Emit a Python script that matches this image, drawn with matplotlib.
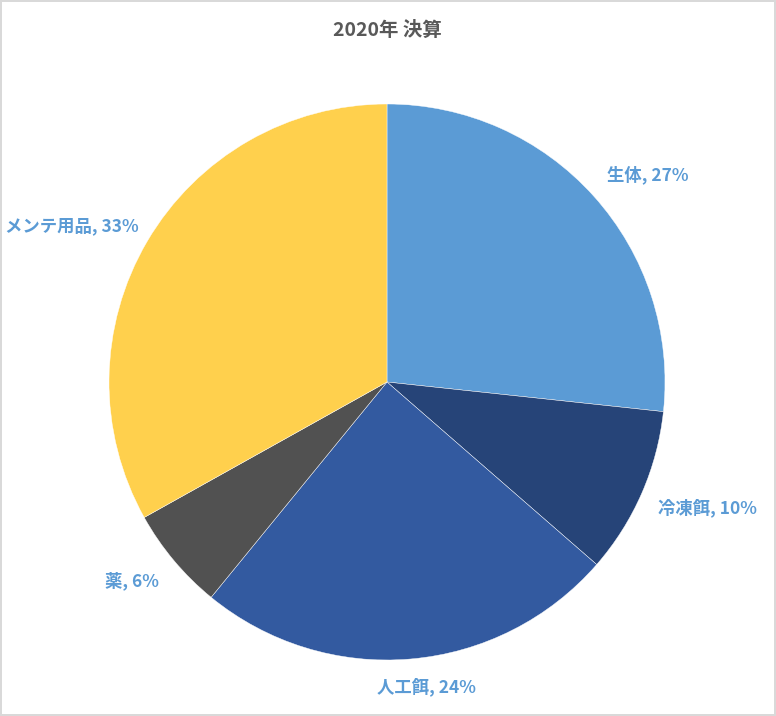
import matplotlib
matplotlib.use("Agg")
import matplotlib.pyplot as plt

plt.rcParams['font.family'] = ['Noto Sans CJK JP', 'DejaVu Sans']

categories = ["生体", "冷凍餌", "人工餌", "薬", "メンテ用品"]
values = [26.7, 9.7, 24.5, 6.0, 33.1]
colors = ["#5B9BD5", "#264478", "#335AA0", "#515151", "#FFD04D"]
# label centres in pixels of the 776x716 image
label_px = [(648, 175), (707, 508), (426, 687), (132, 581), (72, 226)]

W, H = 776, 716
cx, cy, r = 387, 382, 278
fig = plt.figure(figsize=(W / 100, H / 100), dpi=100, facecolor="white",
                 edgecolor="#D9D9D9", linewidth=1.5)

box = 285
ax = fig.add_axes([(cx - box) / W, (H - cy - box) / H, 2 * box / W, 2 * box / H])
ax.pie(values, colors=colors, startangle=90, counterclock=False, radius=1,
       wedgeprops=dict(edgecolor="white", linewidth=0.3))
ax.set_xlim(-box / r, box / r)
ax.set_ylim(-box / r, box / r)
ax.set_aspect("equal")
ax.axis("off")

total = sum(values)
for name, v, (px, py) in zip(categories, values, label_px):
    pct = round(v / total * 100)
    ax.text((px - cx) / r, (cy - py) / r, f"{name}, {pct}%", ha="center", va="center",
            fontsize=12.5, fontweight="bold", color="#5B9BD5")

fig.text(387 / W, 1 - 30 / H, "2020年 決算", ha="center", va="center",
         fontsize=14, fontweight="bold", color="#595959")

fig.savefig("out.png", dpi=100)
